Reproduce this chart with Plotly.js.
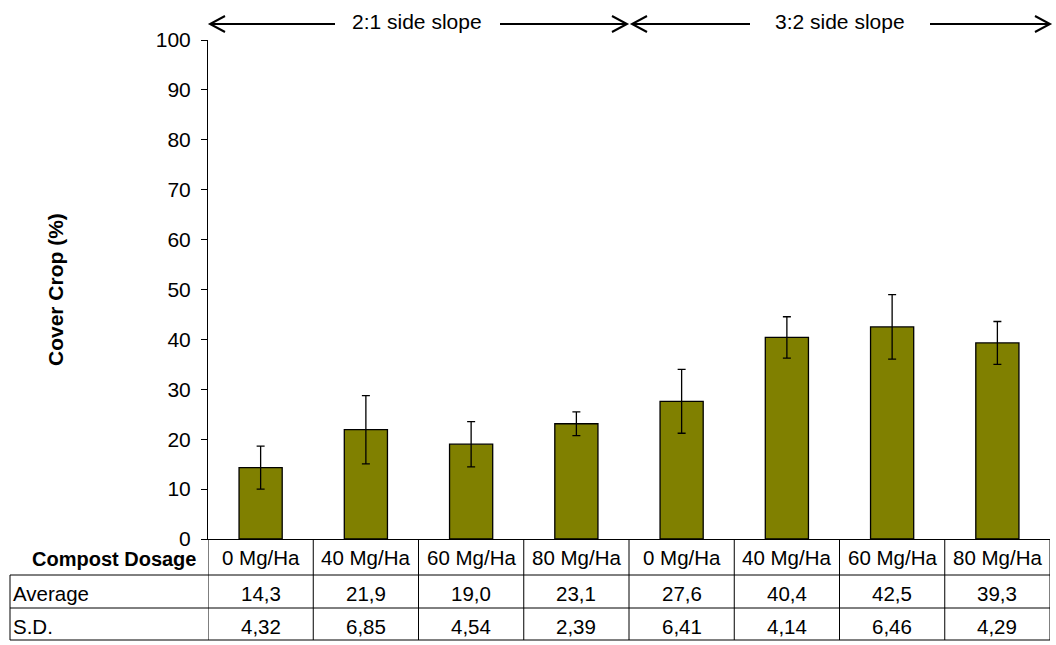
<!DOCTYPE html>
<html>
<head>
<meta charset="utf-8">
<script src="https://cdn.plot.ly/plotly-3.0.1.min.js"></script>
<style>html,body{margin:0;padding:0;background:#fff;}#chart{width:1056px;height:645px;}</style>
</head>
<body>
<div id="chart"></div>
<script>
// ---- data ----
const dosages = ['0 Mg/Ha', '40 Mg/Ha', '60 Mg/Ha', '80 Mg/Ha', '0 Mg/Ha', '40 Mg/Ha', '60 Mg/Ha', '80 Mg/Ha'];
const averages = [14.3, 21.9, 19.0, 23.1, 27.6, 40.4, 42.5, 39.3];
const sds = [4.32, 6.85, 4.54, 2.39, 6.41, 4.14, 6.46, 4.29];
const groupLabels = ['2:1 side slope', '3:2 side slope'];
const rowLabels = ['Compost Dosage', 'Average', 'S.D.'];
const yTitle = 'Cover Crop (%)';
const yTicks = [0, 10, 20, 30, 40, 50, 60, 70, 80, 90, 100];

// ---- layout geometry (pixels) ----
const W = 1056, H = 645;
const L = 208, R = 6, T = 40, B = 106;
const pw = W - L - R, ph = H - T - B;
const px = x => (x - L) / pw;          // pixel x -> paper
const py = y => (H - B - y) / ph;      // pixel y -> paper

const fmtAvg = v => v.toFixed(1).replace('.', ',');
const fmtSd = v => v.toFixed(2).replace('.', ',');

const idx = averages.map((_, i) => i);

const trace = {
  type: 'bar',
  x: idx,
  y: averages,
  width: 0.41,
  marker: {color: '#808000', line: {color: '#000000', width: 1.3}},
  error_y: {type: 'data', array: sds, visible: true, color: '#000000', thickness: 1.3, width: 4},
  hoverinfo: 'none'
};

const font = {family: 'Liberation Sans, Arial, sans-serif', color: '#000000'};
const f = s => Object.assign({size: s}, font);
const annotations = [];
const shapes = [];

// table rows (pixel y bounds)
const rowTop = [539, 575, 608];
const rowBot = [575, 608, 640];
const rowMid = [557, 593, 626];
const cellFont = 20.5;

dosages.forEach((d, i) => {
  annotations.push({xref: 'x', yref: 'paper', x: i, y: py(rowMid[0]), text: d, showarrow: false,
    xanchor: 'center', yanchor: 'middle', font: f(cellFont)});
  annotations.push({xref: 'x', yref: 'paper', x: i, y: py(rowMid[1]), text: fmtAvg(averages[i]), showarrow: false,
    xanchor: 'center', yanchor: 'middle', font: f(cellFont)});
  annotations.push({xref: 'x', yref: 'paper', x: i, y: py(rowMid[2]), text: fmtSd(sds[i]), showarrow: false,
    xanchor: 'center', yanchor: 'middle', font: f(cellFont)});
});
// row labels
annotations.push({xref: 'paper', yref: 'paper', x: px(198), y: py(559), text: '<b>' + rowLabels[0] + '</b>', showarrow: false,
  xanchor: 'right', yanchor: 'middle', font: f(20)});
annotations.push({xref: 'paper', yref: 'paper', x: px(11), y: py(rowMid[1]), text: rowLabels[1], showarrow: false,
  xanchor: 'left', yanchor: 'middle', font: f(cellFont)});
annotations.push({xref: 'paper', yref: 'paper', x: px(11), y: py(rowMid[2]), text: rowLabels[2], showarrow: false,
  xanchor: 'left', yanchor: 'middle', font: f(cellFont)});
// y axis title
annotations.push({xref: 'paper', yref: 'paper', x: px(55), y: py(290), text: '<b>' + yTitle + '</b>', showarrow: false,
  textangle: -90, xanchor: 'center', yanchor: 'middle', font: f(21)});

const lineStyle = {color: '#000000', width: 1};
for (let k = 0; k <= dosages.length; k++) {
  const x = k - 0.5;
  shapes.push({type: 'line', xref: 'x', yref: 'paper', x0: x, x1: x, y0: py(rowTop[0]), y1: py(rowBot[2]), line: lineStyle});
}
shapes.push({type: 'line', xref: 'paper', yref: 'paper', x0: px(10), x1: px(10), y0: py(rowTop[1]), y1: py(rowBot[2]), line: lineStyle});
[rowTop[1], rowTop[2], rowBot[2]].forEach(y => {
  shapes.push({type: 'line', xref: 'paper', yref: 'paper', x0: px(10), x1: 1, y0: py(y), y1: py(y), line: lineStyle});
});

// group arrows at top (pixel geometry)
const aY = 24;
const arrows = [
  {tipL: 210, lineEndL: 335, lineStartR: 500, tipR: 627, label: groupLabels[0], cx: 417},
  {tipL: 632, lineEndL: 750, lineStartR: 930, tipR: 1050, label: groupLabels[1], cx: 840}
];
const arrowLine = {color: '#000000', width: 2};
const hx = 15, hy = 8;
arrows.forEach(a => {
  shapes.push({type: 'line', xref: 'paper', yref: 'paper', x0: px(a.tipL), x1: px(a.lineEndL), y0: py(aY), y1: py(aY), line: arrowLine});
  shapes.push({type: 'line', xref: 'paper', yref: 'paper', x0: px(a.lineStartR), x1: px(a.tipR), y0: py(aY), y1: py(aY), line: arrowLine});
  shapes.push({type: 'path', xref: 'paper', yref: 'paper',
    path: `M ${px(a.tipL + hx)} ${py(aY - hy)} L ${px(a.tipL)} ${py(aY)} L ${px(a.tipL + hx)} ${py(aY + hy)}`, line: arrowLine});
  shapes.push({type: 'path', xref: 'paper', yref: 'paper',
    path: `M ${px(a.tipR - hx)} ${py(aY - hy)} L ${px(a.tipR)} ${py(aY)} L ${px(a.tipR - hx)} ${py(aY + hy)}`, line: arrowLine});
  annotations.push({xref: 'paper', yref: 'paper', x: px(a.cx), y: py(aY - 2), text: a.label, showarrow: false,
    xanchor: 'center', yanchor: 'middle', font: f(21)});
});

const layout = {
  width: W, height: H,
  margin: {l: L, r: R, t: T, b: B, pad: 0},
  paper_bgcolor: '#ffffff', plot_bgcolor: '#ffffff',
  showlegend: false,
  xaxis: {range: [-0.5, 7.5], showticklabels: false, ticks: '', showgrid: false, zeroline: false,
    showline: true, linecolor: '#000000', linewidth: 1, fixedrange: true},
  yaxis: {range: [0, 100], tickvals: yTicks, ticktext: yTicks.map(String), ticks: 'outside', ticklen: 6,
    tickcolor: '#000000', showgrid: false, zeroline: false, showline: true, linecolor: '#000000', linewidth: 1,
    ticklabelstandoff: 6, tickfont: f(21), fixedrange: true},
  annotations: annotations,
  shapes: shapes
};

Plotly.newPlot('chart', [trace], layout, {displayModeBar: false, staticPlot: true});
</script>
</body>
</html>
